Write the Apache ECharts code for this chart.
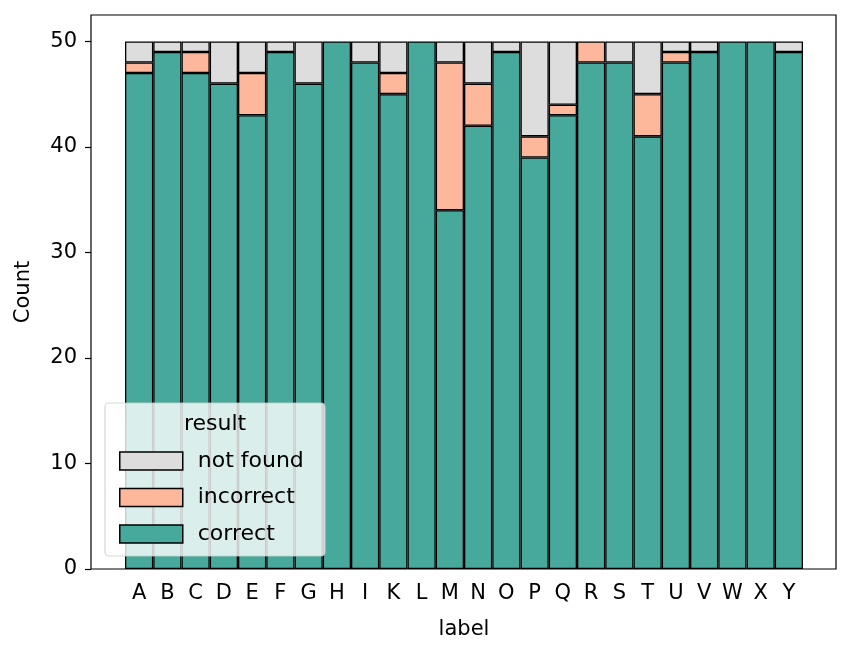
<!DOCTYPE html>
<html><head><meta charset="utf-8">
<script src="https://cdn.jsdelivr.net/npm/echarts@6/dist/echarts.min.js"></script>
<style>html,body{margin:0;padding:0;background:#fff}#c{width:851px;height:655px}</style>
</head><body><div id="c"></div>
<script>
const categories = ['A','B','C','D','E','F','G','H','I','K','L','M','N','O','P','Q','R','S','T','U','V','W','X','Y'];
const correct   = [47,49,47,46,43,49,46,50,48,45,50,34,42,49,39,43,48,48,41,48,49,50,50,49];
const incorrect = [1,0,2,0,4,0,0,0,0,2,0,14,4,0,2,1,2,0,4,1,0,0,0,0];
const notFound  = [2,1,1,4,3,1,4,0,2,3,0,2,4,1,9,6,0,2,5,1,1,0,0,1];
const yTicks = [0,10,20,30,40,50];

const FONT = 'DejaVu Sans';
const FS = 21;
const chart = echarts.init(document.getElementById('c'), null, {renderer:'canvas'});
const edge = {borderColor:'#000', borderWidth:1.3};
function mk(name, data, color){
  return {name, type:'bar', stack:'s', data:data.map(v => v === 0 ? '-' : v), barWidth:'100%', barCategoryGap:0,
    itemStyle:Object.assign({color}, edge), emphasis:{disabled:true}};
}
chart.setOption({
  animation:false,
  grid:{left:125, right:48, top:15, bottom:86},
  xAxis:{type:'category', data:categories, boundaryGap:true,
    name:'label', nameLocation:'middle', nameGap:50,
    nameTextStyle:{fontFamily:FONT, fontSize:FS, color:'#000'},
    axisLine:{show:false}, axisTick:{alignWithLabel:true, length:6, lineStyle:{color:'#000', width:1.2}},
    axisLabel:{fontFamily:FONT, fontSize:FS, color:'#000', margin:14, interval:0}},
  yAxis:{type:'value', min:0, max:52.5, interval:10, offset:34,
    name:'Count', nameLocation:'middle', nameGap:57, nameRotate:90,
    nameTextStyle:{fontFamily:FONT, fontSize:FS, color:'#000'},
    splitLine:{show:false}, axisLine:{show:false},
    axisTick:{show:true, length:6, customValues:yTicks, lineStyle:{color:'#000', width:1.2}},
    axisLabel:{fontFamily:FONT, fontSize:FS, color:'#000', margin:14, customValues:yTicks}},
  legend:{orient:'vertical', left:114, top:445, itemWidth:63, itemHeight:18, itemGap:14.5, icon:'rect',
    data:['not found','incorrect','correct'], selectedMode:false, z:10,
    textStyle:{fontFamily:FONT, fontSize:22, color:'#000', padding:[0,0,0,10]},
    itemStyle:{borderColor:'#000', borderWidth:1.5}},
  graphic:[
    {type:'rect', z:0, zlevel:0, shape:{x:91, y:15, width:745, height:554},
      style:{fill:null, stroke:'#000', lineWidth:1.2}, silent:true},
    {type:'rect', z:8, shape:{x:105, y:403, width:220, height:153, r:4},
      style:{fill:'rgba(255,255,255,0.8)', stroke:'rgba(204,204,204,0.8)', lineWidth:1.2}, silent:true},
    {type:'text', z:9, style:{text:'result', x:215, y:424, fontFamily:FONT, fontSize:22, fill:'#000', align:'center', verticalAlign:'middle'}}
  ],
  series:[ mk('correct', correct, '#46a99c'), mk('incorrect', incorrect, '#fdb79a'), mk('not found', notFound, '#dddddd') ]
});
</script></body></html>
